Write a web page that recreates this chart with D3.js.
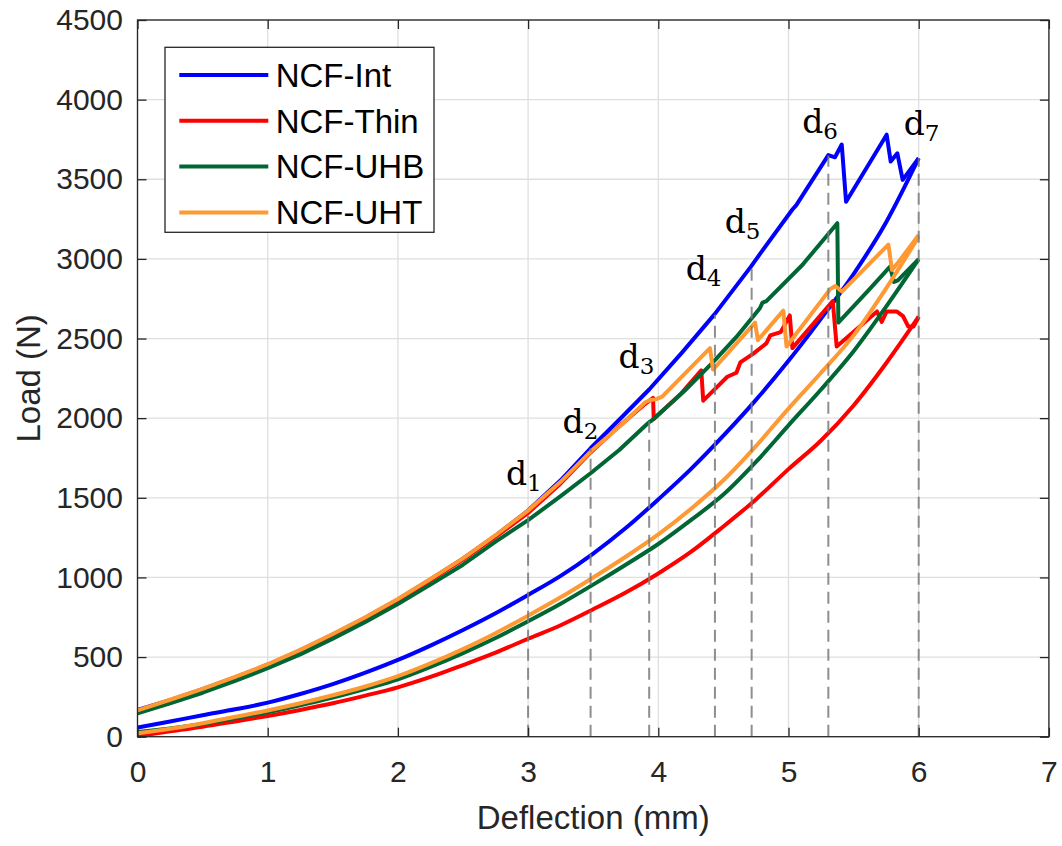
<!DOCTYPE html>
<html><head><meta charset="utf-8">
<script src="https://cdn.jsdelivr.net/npm/d3@7"></script>
<style>body{margin:0;background:#fff}</style>
</head><body>
<svg id="chart" width="1062" height="846"></svg>
<script>
// ---------------- data ----------------
const xTicks = [0, 1, 2, 3, 4, 5, 6, 7];
const yTicks = [0, 500, 1000, 1500, 2000, 2500, 3000, 3500, 4000, 4500];
const seriesNames = ["NCF-Int", "NCF-Thin", "NCF-UHB", "NCF-UHT"];
const seriesColors = ["#0000FF", "#FF0000", "#006633", "#FF9933"];

// loading branches (deflection mm, load N)
const intLoadX = [0,0.25,0.5,0.75,1,1.25,1.5,1.75,2,2.25,2.5,2.75,3,3.25,3.48,3.7,3.93,4.18,4.43,4.71,4.78,5.03,5.06,5.306,5.357,5.409,5.442,5.754,5.785,5.836,5.877,6.0];
const intLoadY = [168,230,298,372,452,542,642,747,862,987,1118,1263,1420,1610,1811,1990,2180,2410,2650,2950,3030,3310,3338,3652,3638,3718,3359,3780,3611,3663,3496,3632];

const thinLoadX = [0,0.25,0.5,0.75,1,1.25,1.5,1.75,2,2.25,2.5,2.75,3,3.25,3.48,3.7,3.9,3.96,3.965,4.17,4.33,4.345,4.45,4.53,4.6,4.63,4.73,4.83,4.86,4.94,5.01,5.03,5.34,5.37,5.68,5.716,5.754,5.83,5.88,5.92,5.96,6.0];
const thinLoadY = [155,220,290,365,447,537,637,742,857,982,1112,1255,1405,1590,1785,1950,2090,2127,1995,2150,2300,2110,2195,2260,2285,2350,2405,2470,2520,2540,2645,2440,2735,2450,2670,2605,2670,2670,2640,2575,2575,2637];

const uhbLoadX = [0,0.25,0.5,0.75,1,1.25,1.5,1.75,2,2.25,2.5,2.75,3,3.25,3.48,3.7,3.91,3.93,3.95,4.2,4.43,4.6,4.78,4.8,4.83,5.11,5.13,5.375,5.383,5.63,5.78,5.81,5.84,6.0];
const uhbLoadY = [147,210,276,350,430,517,616,720,833,955,1080,1225,1360,1510,1654,1800,1960,1975,1985,2170,2360,2510,2690,2725,2735,2965,2985,3224,2600,2816,2951,2855,2865,2998];

const uhtLoadX = [0,0.25,0.5,0.75,1,1.25,1.5,1.75,2,2.25,2.5,2.75,3,3.25,3.48,3.7,3.9,3.94,3.98,4.03,4.397,4.42,4.743,4.765,4.96,4.985,5.32,5.36,5.41,5.767,5.795,5.84,6.0];
const uhtLoadY = [165,232,300,375,455,545,645,750,865,990,1120,1265,1420,1600,1790,1946,2100,2114,2118,2135,2440,2305,2600,2490,2675,2450,2810,2830,2795,3090,2930,2975,3150];

// unloading branches (same deflection grid)
const unloadX = [0,0.25,0.5,0.75,1,1.25,1.5,1.75,2,2.25,2.5,2.75,3,3.25,3.5,3.75,4,4.25,4.5,4.75,5,5.25,5.5,5.75,6];
const intUnloadY  = [58,95,135,172,214,268,330,402,482,572,670,775,890,1010,1150,1310,1490,1680,1890,2115,2360,2625,2905,3230,3632];
const thinUnloadY = [5,34,63,96,130,168,210,258,310,375,450,528,615,700,800,905,1025,1160,1320,1490,1680,1860,2080,2345,2637];
const uhbUnloadY  = [30,52,80,115,153,197,245,300,360,438,525,620,725,835,955,1080,1210,1360,1520,1725,1955,2180,2420,2700,2998];
const uhtUnloadY  = [22,50,85,125,165,210,260,315,380,460,550,650,760,875,1000,1130,1270,1430,1610,1825,2060,2285,2520,2815,3140];

// damage-stage markers
const markerNames = ["1","2","3","4","5","6","7"];
const markerX   = [3.0, 3.48, 3.93, 4.435, 4.717, 5.306, 6.0];
const markerTop = [1420, 1811, 1980, 2650, 2951, 3650, 3632];
const markerLabelX = [2.83, 3.265, 3.695, 4.21, 4.51, 5.105, 5.885];
const markerLabelY = [1580, 1907, 2315, 2867, 3162, 3790, 3778];

// ---------------- chart ----------------
const svg = d3.select("#chart");
svg.append("rect").attr("width",1062).attr("height",846).attr("fill","#fff");

const L = 137.5, R = 1048.9, T = 20, B = 736.7;
const x = d3.scaleLinear().domain([0,7]).range([L,R]);
const y = d3.scaleLinear().domain([0,4500]).range([B,T]);

// grid
const grid = svg.append("g");
grid.selectAll(".gx").data(xTicks).join("line")
  .attr("x1",d=>x(d)).attr("x2",d=>x(d)).attr("y1",T).attr("y2",B)
  .attr("stroke","#DFDFDF").attr("stroke-width",1.3);
grid.selectAll(".gy").data(yTicks).join("line")
  .attr("y1",d=>y(d)).attr("y2",d=>y(d)).attr("x1",L).attr("x2",R)
  .attr("stroke","#DFDFDF").attr("stroke-width",1.3);

// series
const series = [
  {name:seriesNames[0], color:seriesColors[0], lx:intLoadX,  ly:intLoadY,  uy:intUnloadY},
  {name:seriesNames[1], color:seriesColors[1], lx:thinLoadX, ly:thinLoadY, uy:thinUnloadY},
  {name:seriesNames[2], color:seriesColors[2], lx:uhbLoadX,  ly:uhbLoadY,  uy:uhbUnloadY},
  {name:seriesNames[3], color:seriesColors[3], lx:uhtLoadX,  ly:uhtLoadY,  uy:uhtUnloadY}
];
const lineLin = d3.line().x(d=>x(d[0])).y(d=>y(d[1]));
const lineSm = d3.line().x(d=>x(d[0])).y(d=>y(d[1])).curve(d3.curveMonotoneX);
const gS = svg.append("g");
series.forEach(s=>{
  const load = s.lx.map((v,i)=>[v,s.ly[i]]);
  const unload = unloadX.map((v,i)=>[v,s.uy[i]]);
  gS.append("path").attr("d",lineSm(unload)).attr("fill","none")
    .attr("stroke",s.color).attr("stroke-width",4).attr("stroke-linejoin","round");
  gS.append("path").attr("d",lineLin(load)).attr("fill","none")
    .attr("stroke",s.color).attr("stroke-width",4).attr("stroke-linejoin","round");
});

// dashed markers
svg.append("g").selectAll("line").data(markerX).join("line")
  .attr("x1",d=>x(d)).attr("x2",d=>x(d))
  .attr("y1",y(0)).attr("y2",(d,i)=>y(markerTop[i]))
  .attr("stroke","#7a7a7a").attr("stroke-opacity",0.85)
  .attr("stroke-width",2).attr("stroke-dasharray","12,7");

// marker labels
const lab = svg.append("g").attr("font-family","'DejaVu Serif','Liberation Serif',serif").attr("fill","#000");
markerNames.forEach((n,i)=>{
  const t = lab.append("text").attr("x",x(markerLabelX[i])).attr("y",y(markerLabelY[i])).attr("font-size",33);
  t.append("tspan").text("d");
  t.append("tspan").attr("dy",6).attr("font-size",23).text(n);
});

// axes
const tickFont = "'Liberation Sans', Arial, Helvetica, sans-serif";
const fmt = d3.format("d");
const axB = d3.axisBottom(x).tickValues(xTicks).tickFormat(fmt).tickSizeInner(-9).tickSizeOuter(0).tickPadding(24);
const axL = d3.axisLeft(y).tickValues(yTicks).tickFormat(fmt).tickSizeInner(-9).tickSizeOuter(0).tickPadding(14.5);
const axT = d3.axisTop(x).tickValues(xTicks).tickSizeInner(-9).tickSizeOuter(0).tickFormat("");
const axR = d3.axisRight(y).tickValues(yTicks).tickSizeInner(-9).tickSizeOuter(0).tickFormat("");
function style(g){
  g.select(".domain").remove();
  g.selectAll(".tick line").attr("stroke","#262626").attr("stroke-width",1.3);
  g.selectAll(".tick text").attr("fill","#262626").attr("font-size",30).attr("font-family",tickFont);
}
svg.append("g").attr("transform",`translate(0,${B})`).call(axB).call(style);
svg.append("g").attr("transform",`translate(${L},0)`).call(axL).call(style);
svg.append("g").attr("transform",`translate(0,${T})`).call(axT).call(style);
svg.append("g").attr("transform",`translate(${R},0)`).call(axR).call(style);
svg.append("rect").attr("x",L).attr("y",T).attr("width",R-L).attr("height",B-T)
  .attr("fill","none").attr("stroke","#262626").attr("stroke-width",1.3);

// axis labels
svg.append("text").attr("x",(L+R)/2).attr("y",829).attr("text-anchor","middle")
  .attr("font-family",tickFont).attr("font-size",33).attr("fill","#262626").text("Deflection (mm)");
svg.append("text").attr("transform",`translate(40,${(T+B)/2}) rotate(-90)`).attr("text-anchor","middle")
  .attr("font-family",tickFont).attr("font-size",33).attr("fill","#262626").text("Load (N)");

// legend
const lg = svg.append("g");
lg.append("rect").attr("x",165).attr("y",47.3).attr("width",269).attr("height",185)
  .attr("fill","#fff").attr("stroke","#262626").attr("stroke-width",1.3);
series.forEach((s,i)=>{
  const cy = 75 + i*45.8;
  lg.append("line").attr("x1",179.3).attr("x2",268.3).attr("y1",cy).attr("y2",cy)
    .attr("stroke",s.color).attr("stroke-width",4);
  lg.append("text").attr("x",275.7).attr("y",cy+11.8).attr("font-family",tickFont)
    .attr("font-size",33).attr("fill","#000").text(s.name);
});
</script>
</body></html>
